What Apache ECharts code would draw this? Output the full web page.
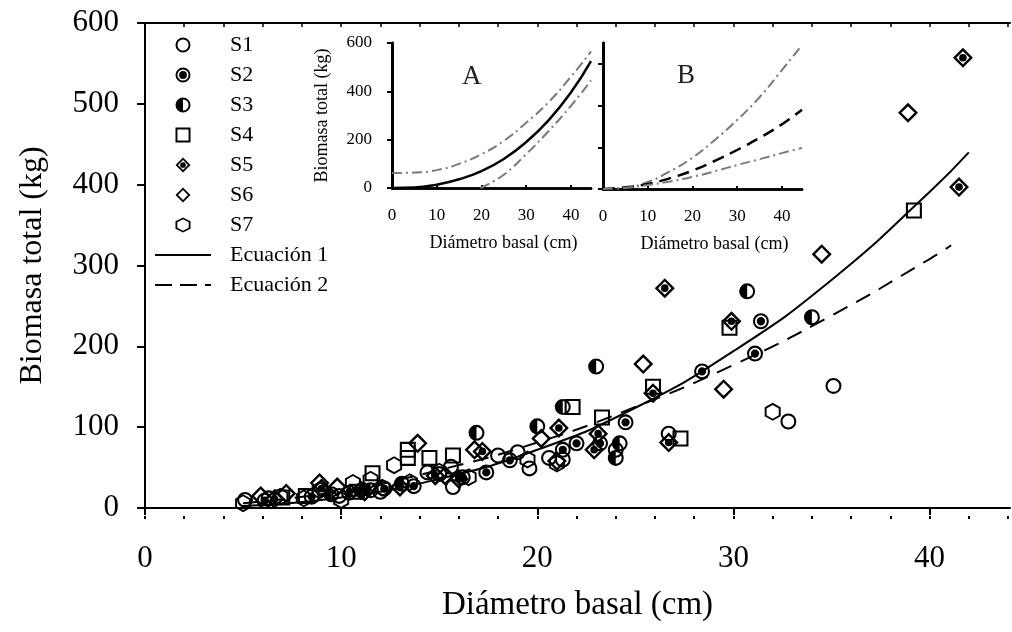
<!DOCTYPE html>
<html><head><meta charset="utf-8">
<script src="https://cdn.jsdelivr.net/npm/echarts@6/dist/echarts.min.js"></script>
<style>html,body{margin:0;padding:0;background:#fff}#c{width:1012px;height:632px}</style>
</head><body><div id="c"></div>
<script>
// ---- data (diameter cm, biomass kg) ----
const s1 = [[5.1,10],[6.3,12],[9.9,15],[12.0,20],[14.4,44],[15.0,42],[15.6,51],[15.7,26],[18.0,65],[19.0,69],[19.6,49],[20.6,62],[21.3,60],[24.0,72],[26.7,92],[32.8,107],[35.1,151]];
const s2 = [[6.1,9],[8.5,14],[10.4,19],[12.2,24],[13.7,27],[16.2,38],[17.4,44],[18.6,59],[21.3,72],[22.0,80],[23.2,80],[24.5,106],[28.4,169],[31.1,191],[31.4,231]];
const s3 = [[9.5,17],[11.5,22],[13.1,30],[16.9,93],[20.0,101],[21.3,125],[23.0,175],[24.0,62],[24.2,80],[30.7,268],[34.0,236]];
const s4 = [[7.0,13],[8.2,15],[10.8,20],[11.6,43],[13.4,72],[13.4,62],[14.5,62],[15.7,65],[21.8,125],[23.3,112],[25.9,150],[27.3,86],[29.8,223],[39.2,368]];
const s5 = [[6.6,11],[9.0,24],[11.0,22],[13.0,26],[14.8,40],[16.0,36],[17.2,70],[21.1,99],[22.9,72],[23.1,92],[25.9,142],[26.5,272],[26.7,81],[29.9,231],[41.5,397],[41.7,557]];
const s6 = [[5.9,15],[7.2,18],[8.9,31],[9.8,26],[11.2,20],[13.9,80],[15.3,40],[16.8,72],[20.2,86],[21.0,58],[25.4,178],[29.5,147],[34.5,314],[38.9,489]];
const s7 = [[5.0,6],[6.9,14],[8.1,12],[8.9,22],[10.0,10],[10.6,31],[11.5,35],[12.1,25],[12.7,53],[13.5,32],[15.0,45],[16.5,38],[19.5,60],[21.0,55],[32.0,119]];
// fitted curves
const eq1 = [[5,2.5],[10,13],[15,36],[20,72],[25,124],[30,194],[35,282],[40,391],[42,440]];
const eq2 = [[5,6],[10,21],[15,47],[20,81],[25,125],[30,177],[35,238],[40,308],[41.1,325]];
// inset A
const aMid = [[0,0],[5,2],[10,14],[15,36],[20,70],[25,120],[30,190],[35,280],[40,395],[44.5,525]];
const aUp  = [[0,62],[5,64],[10,74],[15,100],[20,140],[25,195],[30,270],[35,355],[40,460],[44.5,565]];
const aLo  = [[19.8,0],[25,55],[30,140],[35,235],[40,340],[44.5,445]];
// inset B
const bUp  = [[0,0],[5,6],[10,34],[15,85],[20,150],[25,235],[30,331],[35,440],[40,570],[44.5,690]];
const bMid = [[0,0],[5,8],[10,24],[15,52],[20,88],[25,135],[30,187],[35,245],[40,310],[44.5,380]];
const bLo  = [[0,0],[5,6],[10,19],[15,36],[20,58],[25,85],[30,115],[35,143],[40,172],[44.5,197]];
// ticks / labels
const xMajor = [0,10,20,30,40];
const xMinor = [0,2,4,6,8,10,12,14,16,18,20,22,24,26,28,30,32,34,36,38,40,42,44];
const bYTicks = [0,200,400,600];
const seriesNames = ['S1','S2','S3','S4','S5','S6','S7','Ecuación 1','Ecuación 2'];

const F = 'Liberation Serif';
const ring = 'M0,50A50,50,0,1,1,100,50A50,50,0,1,1,0,50ZM13,50A37,37,0,1,0,87,50A37,37,0,1,0,13,50Z';
const SYM = {
  s1: 'path://' + ring,
  s2: 'path://' + ring + 'M24,50A26,26,0,1,1,76,50A26,26,0,1,1,24,50Z',
  s3: 'path://' + ring + 'M50,13A37,37,0,0,0,50,87Z',
  s4: 'path://M0,0L100,0L100,100L0,100ZM13,13L13,87L87,87L87,13Z',
  s5: 'path://M50,0L100,50L50,100L0,50ZM50,17L17,50L50,83L83,50ZM31,50A19,19,0,1,1,69,50A19,19,0,1,1,31,50Z',
  s6: 'path://M50,0L100,50L50,100L0,50ZM50,17L17,50L50,83L83,50Z',
  s7: 'path://M50,0L100,25L100,75L50,100L0,75L0,25ZM50,12L12,31L12,69L50,88L88,69L88,31Z'
};
const LEG_SOLID = 'path://M0,0L56,0L56,2L0,2Z';
const LEG_DASH = 'path://M0,0L17,0L17,2L0,2ZM25,0L42,0L42,2L25,2ZM50,0L56,0L56,2L50,2Z';
const blk = '#000';
function sc(name, data, sym, size){
  return {name, type:'scatter', xAxisIndex:0, yAxisIndex:0, data, symbol:sym, symbolSize:size,
    itemStyle:{color:blk, borderWidth:0, opacity:1}, z:3, silent:true};
}
function ln(name, data, xi, yi, color, width, type){
  return {name, type:'line', xAxisIndex:xi, yAxisIndex:yi, data, smooth:true, symbol:'none',
    lineStyle:{color, width, type}, itemStyle:{color}, z:2, silent:true};
}
const gray = '#7a7a7a';
const dashDot = [10,4,2,4];

const hidden = {show:false};
const legendData = seriesNames.map(function(n){
  if (n === 'Ecuación 1') return {name:n, icon:LEG_SOLID, itemStyle:{color:blk, borderWidth:0}};
  if (n === 'Ecuación 2') return {name:n, icon:LEG_DASH, itemStyle:{color:blk, borderWidth:0}};
  return {name:n};
});
const option = {
  animation:false,
  backgroundColor:'#fff',
  textStyle:{fontFamily:F, color:blk},
  grid:[
    {left:145, top:23, width:865, height:485},
    {left:392, top:43, width:199, height:145},
    {left:603, top:43, width:199, height:146}
  ],
  xAxis:[
    {gridIndex:0, type:'value', position:'bottom', min:0, max:44.1, offset:11,
     axisLine:{show:true, lineStyle:{color:blk, width:2}},
     axisTick:{show:true, inside:false, length:7, customValues:xMajor, lineStyle:{color:blk, width:2}},
     axisLabel:{customValues:xMajor, fontSize:31, fontFamily:F, color:blk, margin:24},
     splitLine:hidden,
     name:'Diámetro basal (cm)', nameLocation:'middle', nameGap:70,
     nameTextStyle:{fontSize:33, fontFamily:F, color:blk}},
    {gridIndex:0, type:'value', position:'bottom', min:0, max:44.1, offset:11,
     axisLine:hidden, axisTick:{show:true, inside:true, length:3, customValues:xMinor, lineStyle:{color:blk, width:2}},
     axisLabel:hidden, splitLine:hidden},
    {gridIndex:0, type:'value', position:'top', min:0, max:44.1,
     axisLine:{show:true, lineStyle:{color:blk, width:2}},
     axisTick:{show:true, inside:true, length:4, customValues:xMinor, lineStyle:{color:blk, width:1.5}},
     axisLabel:hidden, splitLine:hidden},
    {gridIndex:1, type:'value', position:'bottom', min:0, max:44.5, offset:5,
     axisLine:{show:true, lineStyle:{color:blk, width:2.5}},
     axisTick:{show:true, inside:true, length:3, customValues:xMajor, lineStyle:{color:blk, width:2}},
     axisLabel:{customValues:xMajor, fontSize:17, fontFamily:F, color:blk, margin:14},
     splitLine:hidden,
     name:'Diámetro basal (cm)', nameLocation:'middle', nameGap:41,
     nameTextStyle:{fontSize:18, fontFamily:F, color:blk, padding:[0,0,0,24]}},
    {gridIndex:1, type:'value', position:'top', min:0, max:44.5,
     axisLine:{show:true, lineStyle:{color:blk, width:2.5}}, axisTick:hidden, axisLabel:hidden, splitLine:hidden},
    {gridIndex:2, type:'value', position:'bottom', min:0, max:44.5, offset:5,
     axisLine:{show:true, lineStyle:{color:blk, width:2.5}},
     axisTick:{show:true, inside:true, length:3, customValues:xMajor, lineStyle:{color:blk, width:2}},
     axisLabel:{customValues:xMajor, fontSize:17, fontFamily:F, color:blk, margin:14},
     splitLine:hidden,
     name:'Diámetro basal (cm)', nameLocation:'middle', nameGap:41,
     nameTextStyle:{fontSize:18, fontFamily:F, color:blk, padding:[0,0,0,24]}},
    {gridIndex:2, type:'value', position:'top', min:0, max:44.5,
     axisLine:{show:true, lineStyle:{color:blk, width:2.5}}, axisTick:hidden, axisLabel:hidden, splitLine:hidden}
  ],
  yAxis:[
    {gridIndex:0, type:'value', position:'left', min:0, max:600, interval:100,
     axisLine:{show:true, lineStyle:{color:blk, width:2}},
     axisTick:{show:true, inside:false, length:8, lineStyle:{color:blk, width:2}},
     axisLabel:{fontSize:31, fontFamily:F, color:blk, margin:26},
     splitLine:hidden,
     name:'Biomasa total (kg)', nameLocation:'middle', nameGap:96,
     nameTextStyle:{fontSize:32, fontFamily:F, color:blk}},
    {gridIndex:1, type:'value', position:'left', min:0, max:600, interval:200,
     axisLine:{show:true, lineStyle:{color:blk, width:2.5}},
     axisTick:{show:true, inside:false, length:5, lineStyle:{color:blk, width:2}},
     axisLabel:{fontSize:17, fontFamily:F, color:blk, margin:20},
     splitLine:hidden,
     name:'Biomasa total (kg)', nameLocation:'middle', nameGap:61,
     nameTextStyle:{fontSize:18, fontFamily:F, color:blk}},
    {gridIndex:1, type:'value', position:'right', min:0, max:600,
     axisLine:{show:true, lineStyle:{color:blk, width:3}}, axisTick:hidden, axisLabel:hidden, splitLine:hidden},
    {gridIndex:2, type:'value', position:'left', min:0, max:700,
     axisLine:{show:true, lineStyle:{color:blk, width:2.5}},
     axisTick:{show:true, inside:false, length:5, customValues:bYTicks, lineStyle:{color:blk, width:2}},
     axisLabel:hidden, splitLine:hidden},
    {gridIndex:2, type:'value', position:'right', min:0, max:700,
     axisLine:{show:true, lineStyle:{color:blk, width:3}}, axisTick:hidden, axisLabel:hidden, splitLine:hidden}
  ],
  legend:{
    orient:'vertical', left:150, top:29, itemWidth:56, itemHeight:15, itemGap:8,
    data:legendData, selectedMode:false,
    textStyle:{fontFamily:F, fontSize:22, color:blk, padding:[0,0,0,14]}
  },
  graphic:[
    {type:'text', left:462, top:63, style:{text:'A', font:'27px "Liberation Serif"', fill:'#222'}},
    {type:'text', left:677, top:62, style:{text:'B', font:'27px "Liberation Serif"', fill:'#222'}}
  ],
  series:[
    sc('S1', s1, SYM.s1, 16),
    sc('S2', s2, SYM.s2, 16),
    sc('S3', s3, SYM.s3, 16),
    sc('S4', s4, SYM.s4, 16),
    sc('S5', s5, SYM.s5, 20),
    sc('S6', s6, SYM.s6, 20),
    sc('S7', s7, SYM.s7, [16,18]),
    ln('Ecuación 1', eq1, 0, 0, blk, 2, 'solid'),
    ln('Ecuación 2', eq2, 0, 0, blk, 2, [16,10]),
    ln('A_mid', aMid, 3, 1, blk, 2.5, 'solid'),
    ln('A_up', aUp, 3, 1, gray, 2, dashDot),
    ln('A_lo', aLo, 3, 1, gray, 2, dashDot),
    ln('B_up', bUp, 5, 3, gray, 2, dashDot),
    ln('B_mid', bMid, 5, 3, blk, 2.5, [12,7]),
    ln('B_lo', bLo, 5, 3, gray, 2, dashDot)
  ]
};
const chart = echarts.init(document.getElementById('c'));
chart.setOption(option);
</script>
</body></html>
